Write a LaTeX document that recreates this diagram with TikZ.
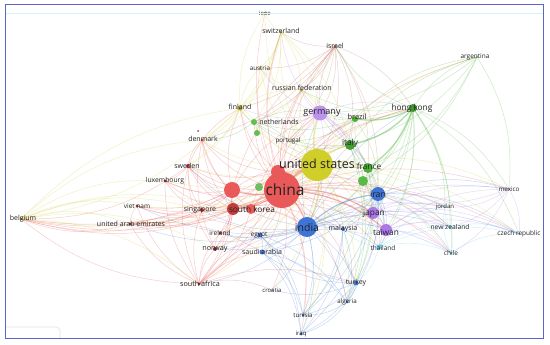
\documentclass[tikz,border=0pt]{standalone}
\usepackage{fontspec}
\setmainfont{Open Sans}
\definecolor{cR}{RGB}{232,70,70}
\definecolor{cY}{RGB}{208,206,40}
\definecolor{cG}{RGB}{72,176,52}
\definecolor{cP}{RGB}{172,120,232}
\definecolor{cB}{RGB}{62,116,214}
\definecolor{cC}{RGB}{86,204,232}
\definecolor{cBr}{RGB}{170,100,80}
\definecolor{labc}{RGB}{35,35,35}
\definecolor{frame}{RGB}{92,102,200}
\tikzset{
  edge/.style={line width=0.5pt, opacity=0.27},
  bigedge/.style={line width=1.4pt, opacity=0.3},
  dot/.style={circle, inner sep=0pt, minimum size=#1},
  lab/.style={text=labc, inner sep=0pt, font=\fontsize{#1}{#1}\selectfont}
}
\begin{document}
\begin{tikzpicture}[x=1pt,y=-1pt]
\useasboundingbox (0,0) rectangle (550,345);
\fill[white] (0,0) rectangle (550,345);
% coordinates
\coordinate (cn) at (282,190);
\coordinate (r1) at (278,172);
\coordinate (r2) at (232,190);
\coordinate (kr) at (233,209);
\coordinate (kr2) at (251,209);
\coordinate (sg) at (202,210);
\coordinate (se) at (188,166);
\coordinate (dk) at (202,140);
\coordinate (dk2) at (198,131);
\coordinate (lu) at (165,181);
\coordinate (vn) at (137,206);
\coordinate (ae) at (130,224);
\coordinate (no) at (215,249);
\coordinate (ie) at (220,233);
\coordinate (za) at (199,284);
\coordinate (il) at (335,46);
\coordinate (us) at (317,165);
\coordinate (ch) at (281,32);
\coordinate (ieee) at (265,13);
\coordinate (aus) at (260,68);
\coordinate (fi) at (240,108);
\coordinate (ru) at (301,90);
\coordinate (be) at (21,219);
\coordinate (hk) at (413,108);
\coordinate (br) at (355,119);
\coordinate (it) at (350,145);
\coordinate (fr) at (368,168);
\coordinate (g2) at (363,181);
\coordinate (nl) at (254,122);
\coordinate (nl2) at (257,133);
\coordinate (g3) at (259,187);
\coordinate (ar) at (477,57);
\coordinate (pt) at (288,141);
\coordinate (de) at (320,113);
\coordinate (jp) at (373,213);
\coordinate (tw) at (386,230);
\coordinate (mx) at (509,189);
\coordinate (ind) at (307,227);
\coordinate (ir) at (378,194);
\coordinate (eg) at (260,235);
\coordinate (sa) at (262,252);
\coordinate (tr) at (356,283);
\coordinate (dz) at (347,302);
\coordinate (tn) at (303,315);
\coordinate (iq) at (301,334);
\coordinate (my) at (343,229);
\coordinate (hr) at (272,290);
\coordinate (th) at (379,247);
\coordinate (nz) at (450,227);
\coordinate (cl) at (451,253);
\coordinate (cz) at (519,234);
\coordinate (jo) at (445,207);
% edges
\foreach \s/\c/\tl in {
 cn/cR/{us,ind,de,it,fr,ir,jp,tw,hk,br,se,dk,lu,vn,ae,no,ie,za,sg,kr,be,fi,ch,il,ru,eg,sa,tr,my,th,nz,cz,mx,ar,tn,dz,iq,cl,jo,hr,aus,ieee,nl,pt,r2,r1,g2,g3},
 r1/cR/{us,de,it,fi,dk,se,za,ind,ru,il,hk,ae,be,ch,ir},
 r2/cR/{se,dk,lu,vn,ae,sg,za,no,us,ind,de,fi,be,il,ie},
 kr/cR/{sg,se,dk,lu,vn,ae,no,ie,za,us,ind,ir,be,tw,jp},
 kr2/cR/{us,ind,de,dk,se,za,hk},
 za/cR/{no,ie,sg,ae,be,vn,se,lu,eg,sa,ind,tr,hr},
 sg/cR/{vn,ae,lu,se,be,my},
 se/cR/{dk,fi,be,lu},
 ae/cR/{be,vn,eg,sa},
 no/cR/{ie,dk,se},
 il/cBr/{ch,ru,fi,aus,us,de,it,fr,hk,ir,nl,dk,pt},
 us/cY/{ind,de,it,fr,ir,jp,tw,hk,br,ch,il,ru,fi,aus,ieee,be,se,dk,ae,za,sa,eg,tr,my,th,nz,cl,cz,mx,ar,jo,nl,pt,kr,sg,no,ie,vn,lu,dz,tn,iq,hr},
 ch/cY/{ieee,aus,fi,ru,de,nl,dk,se,it},
 fi/cY/{ru,aus,dk,se,nl,ieee,be},
 ru/cY/{aus,de,nl,pt,it},
 be/cY/{lu,vn,ae,za,sg,kr,no,fi,dk},
 hk/cG/{it,fr,br,ar,ir,tw,jp,nz,mx,cl,de,ind,g2,ru,il,cz,my,th,jo},
 it/cG/{fr,br,ir,ar,tr,dz,nl,pt,de,g2},
 fr/cG/{br,ir,g2,tr,dz,tn,nl},
 br/cG/{ar,de,nl,pt,ir},
 ar/cG/{it,fr,g2,mx,de},
 nl/cG/{nl2,pt,de,fi,dk},
 g2/cG/{ir,jp,tw,ind},
 de/cP/{it,fr,ch,aus,il,ru,fi,nl,hk,br,ir,jp,tw,ind,pt},
 jp/cP/{tw,th,nz,cl,cz,jo,mx,ir,my},
 tw/cP/{th,nz,cl,cz,jo,mx,my,ir},
 mx/cP/{cz,nz,jo,cl,ir},
 ind/cB/{ir,jp,tw,my,eg,sa,tr,dz,tn,iq,hr,th,nz,cl,cz,jo,mx,de,it,fr,hk,sg,za,no,ie,ae,vn,se},
 ir/cB/{tr,dz,tn,iq,eg,sa,my,jp,tw,th,nz,cl,cz,jo,mx},
 tr/cB/{dz,tn,iq,eg,sa,hr,my},
 eg/cB/{sa,tn,iq,dz,no,ie},
 sa/cB/{tn,iq,dz,my},
 my/cB/{tn,iq,dz},
 dz/cB/{tn,iq},
 th/cC/{nz,cl,cz,jo,my,tr},
 nz/cC/{cl,cz,jo},
 cl/cC/{cz,jo}}
{ \foreach \t in \tl { \draw[edge,\c] (\s) to[bend left=18] (\t); } }
% heavier links
\foreach \s/\c/\t in {cn/cR/ind, us/cY/ind, cn/cR/r1, cn/cR/kr, us/cY/de, us/cY/it, cn/cR/r2, ind/cB/ir, cn/cR/tw, us/cY/fr, cn/cR/jp, hk/cG/it, hk/cG/br, hk/cG/fr, us/cY/r1}
{ \draw[bigedge,\c] (\s) to[bend left=18] (\t); }
\draw[cR, line width=2pt, opacity=0.3] (cn) to[bend left=18] (us);
% circles
\node[dot=2.5pt, fill=cY!90!black] (ieee-d) at (ieee) {};
\node[dot=3pt, fill=cY!85!black] (ch-d) at (ch) {};
\node[dot=2.5pt, fill=cY!85!black] (aus-d) at (aus) {};
\node[dot=3pt, fill=cBr] (il-d) at (il) {};
\node[dot=3pt, fill=cY!80!black] (ru-d) at (ru) {};
\node[dot=2pt, fill=cG!70] (ar-d) at (ar) {};
\node[dot=8pt, fill=cG!85!black] (hk-d) at (hk) {};
\node[dot=15pt, fill=cP!80] (de-d) at (de) {};
\node[dot=6pt, fill=cG] (br-d) at (br) {};
\node[dot=5pt, fill=cY!85!black] (fi-d) at (fi) {};
\node[dot=6pt, fill=cG!85] (nl-d) at (nl) {};
\node[dot=6pt, fill=cG!85] (nl2-d) at (nl2) {};
\node[dot=3pt, fill=cR] (dk-d) at (dk) {};
\node[dot=2pt, fill=cR!80!black] (dk2-d) at (dk2) {};
\node[dot=10pt, fill=cG!90!black] (it-d) at (it) {};
\node[dot=32pt, fill=cY] (us-d) at (us) {};
\node[dot=10pt, fill=cG] (fr-d) at (fr) {};
\node[dot=10pt, fill=cG!90] (g2-d) at (g2) {};
\node[dot=36pt, fill=cR!90!white] (cn-d) at (cn) {};
\node[dot=14pt, fill=cR!90!white] (r1-d) at (r1) {};
\node[dot=16pt, fill=cR!90!white] (r2-d) at (r2) {};
\node[dot=8pt, fill=cG!80] (g3-d) at (g3) {};
\node[dot=12pt, fill=cR!85!black] (kr-d) at (kr) {};
\node[dot=10pt, fill=cR!90] (kr2-d) at (kr2) {};
\node[dot=4pt, fill=cR!80!black] (sg-d) at (sg) {};
\node[dot=4pt, fill=cR!85!black] (se-d) at (se) {};
\node[dot=3pt, fill=cR!70!black] (lu-d) at (lu) {};
\node[dot=3pt, fill=cR!70!black] (vn-d) at (vn) {};
\node[dot=3pt, fill=cY!70!black] (be-d) at (be) {};
\node[dot=3pt, fill=cR!60!black] (ae-d) at (ae) {};
\node[dot=14pt, fill=cB] (ir-d) at (ir) {};
\node[dot=12pt, fill=cP] (jp-d) at (jp) {};
\node[dot=12pt, fill=cP] (tw-d) at (tw) {};
\node[dot=20pt, fill=cB] (ind-d) at (ind) {};
\node[dot=4pt, fill=cB] (my-d) at (my) {};
\node[dot=5pt, fill=cB] (eg-d) at (eg) {};
\node[dot=3pt, fill=cR!60!black] (ie-d) at (ie) {};
\node[dot=4pt, fill=cR!60!black] (no-d) at (no) {};
\node[dot=5pt, fill=cB] (sa-d) at (sa) {};
\node[dot=5pt, fill=cC] (th-d) at (th) {};
\node[dot=2pt, fill=cC] (jo-d) at (jo) {};
\node[dot=2pt, fill=cP!70] (mx-d) at (mx) {};
\node[dot=3pt, fill=cC] (nz-d) at (nz) {};
\node[dot=2pt, fill=cC] (cz-d) at (cz) {};
\node[dot=3pt, fill=cC] (cl-d) at (cl) {};
\node[dot=3pt, fill=cR!60!black] (za-d) at (za) {};
\node[dot=2pt, fill=cB!70] (hr-d) at (hr) {};
\node[dot=5pt, fill=cB] (tr-d) at (tr) {};
\node[dot=3pt, fill=cB] (dz-d) at (dz) {};
\node[dot=3pt, fill=cB] (tn-d) at (tn) {};
\node[dot=3pt, fill=cB!80!black] (iq-d) at (iq) {};
% labels
\node[lab=6] (ieee-l) at (265,13) {ieee};
\node[lab=7] (ch-l) at (281,31) {switzerland};
\node[lab=6.3] (aus-l) at (260,68) {austria};
\node[lab=7] (il-l) at (335,46) {israel};
\node[lab=7] (ru-l) at (302,88) {russian federation};
\node[lab=6.5] (ar-l) at (475,57) {argentina};
\node[lab=8.3] (hk-l) at (412,108) {hong kong};
\node[lab=9] (de-l) at (322,113) {germany};
\node[lab=7.5] (br-l) at (357,117) {brazil};
\node[lab=7] (fi-l) at (240,107) {finland};
\node[lab=7] (nl-l) at (279,122) {netherlands};
\node[lab=7] (dk-l) at (203,139) {denmark};
\node[lab=6.3] (pt-l) at (288,141) {portugal};
\node[lab=8.3] (it-l) at (350,143) {italy};
\node[lab=12.5] (us-l) at (317,164) {united states};
\node[lab=8.3] (fr-l) at (369,166) {france};
\node[lab=15.5] (cn-l) at (285,190) {china};
\node[lab=7] (se-l) at (187,166) {sweden};
\node[lab=6.8] (lu-l) at (165,181) {luxembourg};
\node[lab=6.5] (vn-l) at (137,206) {viet nam};
\node[lab=7] (sg-l) at (200,210) {singapore};
\node[lab=8.3] (kr-l) at (252,209) {south korea};
\node[lab=7] (be-l) at (23,219) {belgium};
\node[lab=7] (ae-l) at (131,224) {united arab emirates};
\node[lab=8.8] (ir-l) at (378,194) {iran};
\node[lab=8.3] (jp-l) at (374,213) {japan};
\node[lab=8.3] (tw-l) at (386,232) {taiwan};
\node[lab=10.5] (ind-l) at (307,228) {india};
\node[lab=7] (my-l) at (343,229) {malaysia};
\node[lab=6.5] (eg-l) at (259,235) {egypt};
\node[lab=6.5] (ie-l) at (220,233) {ireland};
\node[lab=7.3] (no-l) at (215,249) {norway};
\node[lab=7] (sa-l) at (262,252) {saudi arabia};
\node[lab=6.5] (th-l) at (383,248) {thailand};
\node[lab=6] (jo-l) at (445,207) {jordan};
\node[lab=6.3] (mx-l) at (509,189) {mexico};
\node[lab=6.7] (nz-l) at (450,227) {new zealand};
\node[lab=6.5] (cz-l) at (519,234) {czech republic};
\node[lab=6.5] (cl-l) at (451,253) {chile};
\node[lab=7.2] (za-l) at (200,284) {south africa};
\node[lab=6] (hr-l) at (272,290) {croatia};
\node[lab=7] (tr-l) at (356,283) {turkey};
\node[lab=6.2] (dz-l) at (347,302) {algeria};
\node[lab=6.2] (tn-l) at (303,315) {tunisia};
\node[lab=6] (iq-l) at (301,334) {iraq};
% frame and interface traces
\draw[cC!25, line width=0.5pt] (6,13) -- (543,13);
\draw[black!12, line width=0.6pt] (6,327) -- (56,327) arc[start angle=90, end angle=0, radius=4pt] -- (60,338);
\draw[frame, line width=1pt] (5,5) rectangle (543,338);
\end{tikzpicture}
\end{document}
